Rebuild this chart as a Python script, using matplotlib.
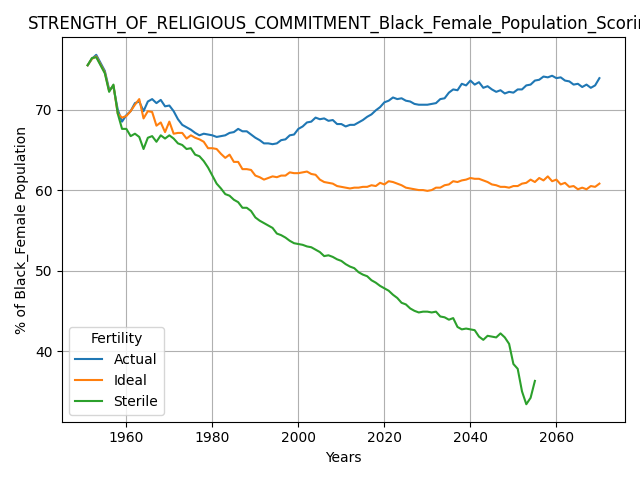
import matplotlib
matplotlib.use('Agg')
import matplotlib.pyplot as plt

years = list(range(1951, 2071))

actual = [75.5, 76.3, 76.8, 75.8, 74.8, 72.5, 72.8, 70.0, 68.5, 69.3,
          69.8, 70.8, 71.0, 69.8, 71.0, 71.3, 70.8, 71.2, 70.4, 70.5,
          69.8, 68.8, 68.1, 67.8, 67.5, 67.1, 66.8, 67.0, 66.9, 66.8,
          66.6, 66.7, 66.8, 67.1, 67.2, 67.6, 67.3, 67.3, 66.9, 66.5,
          66.2, 65.8, 65.8, 65.7, 65.8, 66.2, 66.3, 66.8, 66.9, 67.6,
          67.9, 68.4, 68.5, 69.0, 68.8, 68.9, 68.6, 68.7, 68.2, 68.2,
          67.9, 68.1, 68.1, 68.4, 68.7, 69.1, 69.4, 69.9, 70.3, 70.9,
          71.1, 71.5, 71.3, 71.4, 71.1, 71.0, 70.7, 70.6, 70.6, 70.6,
          70.7, 70.8, 71.3, 71.4, 72.1, 72.5, 72.4, 73.2, 73.0, 73.6,
          73.1, 73.4, 72.7, 72.9, 72.5, 72.2, 72.4, 72.0, 72.2, 72.1,
          72.5, 72.5, 73.0, 73.1, 73.6, 73.7, 74.1, 74.0, 74.2, 73.9,
          74.0, 73.6, 73.5, 73.1, 73.2, 72.8, 73.1, 72.7, 73.0, 73.9]

ideal = [75.5, 76.3, 76.6, 75.6, 74.6, 72.3, 73.0, 69.5, 69.0, 69.2,
         69.8, 70.6, 71.3, 68.9, 69.8, 69.7, 68.0, 68.4, 67.2, 68.5,
         67.0, 67.1, 67.1, 66.4, 66.8, 66.5, 66.3, 66.0, 65.2, 65.2,
         65.1, 64.5, 64.0, 64.4, 63.5, 63.5, 62.6, 62.6, 62.5, 61.8,
         61.6, 61.3, 61.5, 61.7, 61.6, 61.8, 61.8, 62.2, 62.1, 62.1,
         62.2, 62.3, 62.0, 61.9, 61.3, 61.0, 60.9, 60.8, 60.5, 60.4,
         60.3, 60.2, 60.3, 60.3, 60.4, 60.4, 60.6, 60.5, 60.9, 60.7,
         61.1, 61.0, 60.8, 60.6, 60.3, 60.2, 60.1, 60.0, 60.0, 59.9,
         60.0, 60.3, 60.3, 60.6, 60.7, 61.1, 61.0, 61.2, 61.3, 61.5,
         61.4, 61.4, 61.2, 61.0, 60.7, 60.6, 60.4, 60.4, 60.3, 60.5,
         60.5, 60.8, 60.9, 61.3, 61.0, 61.5, 61.2, 61.7, 61.1, 61.3,
         60.7, 60.9, 60.4, 60.5, 60.1, 60.3, 60.1, 60.5, 60.4, 60.8]

sterile_years = list(range(1951, 2056))
sterile = [75.5, 76.4, 76.5, 75.5, 74.5, 72.2, 73.1, 69.5, 67.6, 67.6,
           66.7, 67.0, 66.6, 65.1, 66.5, 66.7, 66.0, 66.8, 66.4, 66.8,
           66.4, 65.8, 65.6, 65.1, 65.2, 64.4, 64.2, 63.6, 62.8, 61.8,
           60.8, 60.2, 59.5, 59.3, 58.8, 58.5, 57.8, 57.8, 57.4, 56.6,
           56.2, 55.9, 55.6, 55.3, 54.6, 54.4, 54.1, 53.7, 53.4, 53.3,
           53.2, 53.0, 52.9, 52.6, 52.3, 51.8, 51.9, 51.7, 51.4, 51.2,
           50.8, 50.5, 50.3, 49.8, 49.5, 49.3, 48.8, 48.5, 48.1, 47.8,
           47.5, 47.0, 46.6, 46.0, 45.8, 45.3, 45.0, 44.8, 44.9, 44.9,
           44.8, 44.9, 44.3, 44.2, 43.9, 44.1, 43.0, 42.7, 42.8, 42.7,
           42.6, 41.8, 41.4, 41.9, 41.8, 41.7, 42.2, 41.7, 40.9, 38.4,
           37.8, 35.0, 33.4, 34.2, 36.3]

fig, ax = plt.subplots(figsize=(6.4, 4.8), dpi=100)
ax.plot(years, actual, label='Actual')
ax.plot(years, ideal, label='Ideal')
ax.plot(sterile_years, sterile, label='Sterile')
ax.set_title('STRENGTH_OF_RELIGIOUS_COMMITMENT_Black_Female_Population_Scoring')
ax.set_xlabel('Years')
ax.set_ylabel('% of Black_Female Population')
ax.grid(True)
ax.legend(title='Fertility', loc='lower left')
plt.tight_layout()
plt.savefig('out.png', dpi=100)
